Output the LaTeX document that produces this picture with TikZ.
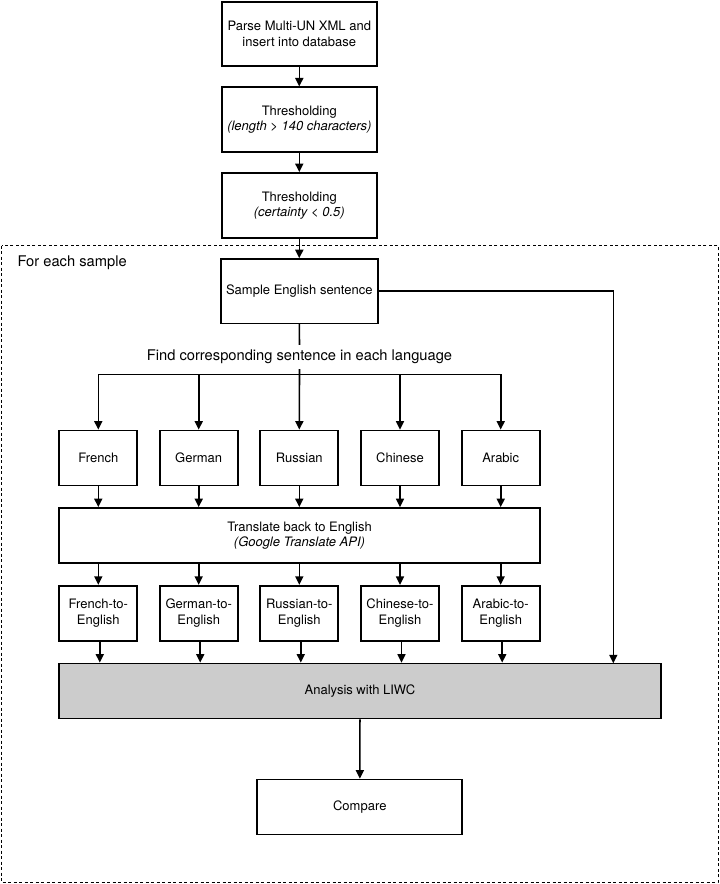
\documentclass[tikz,border=0pt]{standalone}
\usepackage{fontspec}
\setmainfont{TeX Gyre Heros}
\usetikzlibrary{arrows.meta}
\tikzset{
    stepbox/.style={draw,black,line width=1.7pt,align=center,minimum height=55pt,
        inner sep=2pt,font=\fontsize{13}{15.5}\selectfont},
    flow/.style={line width=1.6pt,black,-{Triangle[length=8.5pt,width=8pt]}},
    plain/.style={line width=1.6pt,black},
    biglabel/.style={font=\fontsize{14.7}{17}\selectfont,inner sep=5pt}
}
\begin{document}
\begin{tikzpicture}[x=1pt,y=-1pt]
            \useasboundingbox (0,0) rectangle (720,884);
            % Loop over each sample
            \draw[black,line width=1pt,dash pattern=on 3pt off 2.5pt] (1.7,245.5) rectangle (718,882.5);
            \node[biglabel,anchor=west,inner sep=0pt] (loop) at (17.3,262.3) {For each sample};
            % Preparation
            \node[stepbox,minimum width=155.3pt,minimum height=64pt] (parse) at (299.3,33.7)
                {Parse Multi-UN XML and\\insert into database};
            \node[stepbox,minimum width=155.3pt,minimum height=65pt] (thrlen) at (299.3,119.8)
                {Thresholding\\\textit{(length > 140 characters)}};
            \node[stepbox,minimum width=155.3pt,minimum height=65pt] (thrcert) at (299.3,205.5)
                {Thresholding\\\textit{(certainty < 0.5)}};
            \node[stepbox,minimum width=156.7pt,minimum height=64.3pt] (sample) at (299.3,291.2)
                {Sample English sentence};
            \node[biglabel] (find) at (299.5,357) {Find corresponding sentence in each language};
            % Languages
            \foreach \lang/\name/\x in {fr/French/98.3,de/German/198.7,ru/Russian/299.3,
                    zh/Chinese/400,ar/Arabic/500.7}{
                \node[stepbox,minimum width=78pt] (\lang) at (\x,458) {\name};
                \node[stepbox,minimum width=78pt] (\lang en) at (\x,613.2) {\name-to-\\English};
            }
            \node[stepbox,minimum width=480.4pt] (back) at (299.5,535.5)
                {Translate back to English\\\textit{(Google Translate API)}};
            \node[stepbox,minimum width=601.4pt,fill={rgb,255:red,204;green,204;blue,204}] (liwc) at (360,691)
                {Analysis with LIWC};
            \node[stepbox,minimum width=205pt] (compare) at (359.8,807) {Compare};
            % Arrows
            \draw[flow] (parse) -- (thrlen);
            \draw[flow] (thrlen) -- (thrcert);
            \draw[flow] (thrcert) -- (sample);
            \draw[plain] (sample.south) -- (find.north);
            \coordinate (split) at (299.3,374.3);
            \foreach \lang in {fr,de,zh,ar}
                \draw[flow] (split) -| (\lang.north);
            \draw[flow] (find.south) -- (ru.north);
            \foreach \lang in {fr,de,ru,zh,ar}{
                \draw[flow] (\lang.south) -- (\lang.south |- back.north);
                \draw[flow] (\lang en.north |- back.south) -- (\lang en.north);
                \draw[flow] ([xshift=1.5pt]\lang en.south) -- ([xshift=1.5pt]\lang en.south |- liwc.north);
            }
            \coordinate (bypass) at (613.3,663.3);
            \draw[flow] (sample.east) -| (bypass);
            \draw[flow] (liwc) -- (compare);
           \end{tikzpicture}
\end{document}
